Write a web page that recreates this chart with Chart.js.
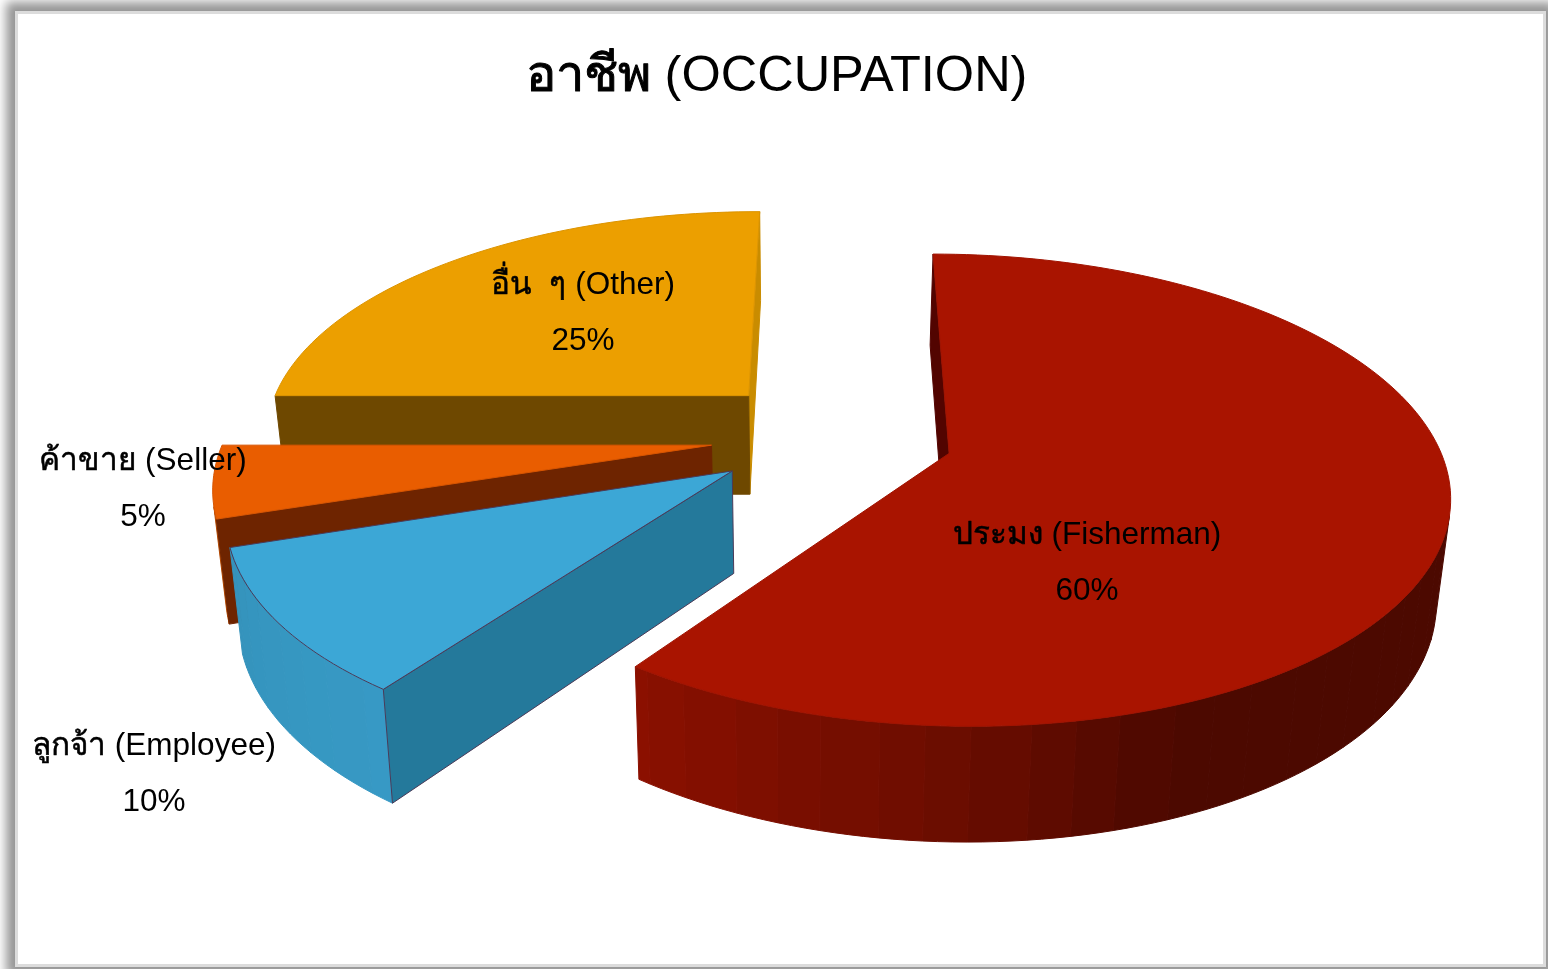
<!DOCTYPE html>
<html>
<head>
<meta charset="utf-8">
<script src="https://cdn.jsdelivr.net/npm/chart.js@4"></script>
<style>
html,body{margin:0;padding:0;background:#fff;overflow:hidden;width:1548px;height:969px}
#frame{position:absolute;left:15px;top:11px;width:1525px;height:950px;border:3px solid #dcdcdc;background:#fff;box-shadow:0 0 10px 9px #969696}
#c{position:absolute;left:0;top:0}
</style>
</head>
<body>
<div id="frame"></div>
<canvas id="c" width="1548" height="969"></canvas>
<script>
const titleText = 'อาชีพ (OCCUPATION)';
const categories = ['ประมง (Fisherman)', 'ลูกจ้า (Employee)', 'ค้าขาย (Seller)', 'อื่น  ๆ (Other)'];
const shares = [60, 10, 5, 25];
const explode = [120, 127, 125, 122];
const topColors = ['#A91400', '#3CA7D6', '#E95D00', '#EC9F00'];
const startFaces = ['#520400', '#24799B', '#6E2400', '#6E4800'];
const endFaces = ['#520400', '#24799B', '#6E2400', '#C98C00'];
const edgeColors = ['#A01300', '#4A3A58', '#D85500', '#DC9400'];
const labelSpots = [[1087, 535], [154, 746], [143, 461], [583, 285]];
const wallStops = [
  [[0, .45], [160, .45], [180, .62], [216, .82]],
  [[216, .92], [252, .88]],
  [[252, .76], [270, .76]],
  [[270, .6], [360, .6]]
];

const view = {dx: 58.5, oy: 436, vx: 830, tilt: .468, tiltGrow: .00033, persp: .156, grow: .00065, refY: 453, sinkX: 800};
const fontStack = '"Liberation Sans", Arial, sans-serif';

function shadeOf(hex, f) {
  const n = parseInt(hex.slice(1), 16);
  return 'rgb(' + [(n >> 16) & 255, (n >> 8) & 255, n & 255].map(c => Math.round(c * f)).join(',') + ')';
}
function stopAt(stops, deg) {
  if (deg <= stops[0][0]) return stops[0][1];
  for (let i = 1; i < stops.length; i++) {
    if (deg <= stops[i][0]) {
      const a = stops[i - 1], b = stops[i];
      return a[1] + (b[1] - a[1]) * (deg - a[0]) / (b[0] - a[0]);
    }
  }
  return stops[stops.length - 1][1];
}
function sink(p) {
  return {x: p.x + (view.sinkX - p.x) * .022, y: p.y + 78 + .052 * p.y};
}
function area(q) {
  let s = 0;
  q.forEach((p, i) => { const n = q[(i + 1) % q.length]; s += p.x * n.y - n.x * p.y; });
  return s;
}
function fillPoly(ctx, pts, fill, stroke, lw) {
  ctx.beginPath();
  pts.forEach((p, i) => i ? ctx.lineTo(p.x, p.y) : ctx.moveTo(p.x, p.y));
  ctx.closePath();
  ctx.fillStyle = fill;
  ctx.fill();
  ctx.strokeStyle = stroke || fill;
  ctx.lineWidth = lw || 1;
  ctx.lineJoin = 'round';
  ctx.stroke();
}
// The Thai run of each text is heavier in the original: thicken only that run.
function thickenThai(ctx, text, cx, y, weight) {
  const cut = text.indexOf('(');
  const total = ctx.measureText(text).width;
  const run = ctx.measureText(text.slice(0, cut)).width;
  ctx.save();
  ctx.beginPath();
  ctx.rect(cx - total / 2 - 2, y - 60, run + 2, 120);
  ctx.clip();
  ctx.lineWidth = weight;
  ctx.strokeStyle = '#000';
  ctx.lineJoin = 'round';
  ctx.strokeText(text, cx, y);
  ctx.restore();
}

const pie3d = {
  id: 'pie3d',
  beforeDatasetDraw() { return false; },
  afterDatasetsDraw(chart) {
    const ctx = chart.ctx;
    const arcs = chart.getDatasetMeta(0).data;
    ctx.save();
    for (let i = arcs.length - 1; i >= 0; i--) {
      const arc = arcs[i];
      const {startAngle, endAngle, outerRadius} = arc.getProps(['startAngle', 'endAngle', 'outerRadius'], true);
      const mid = (startAngle + endAngle) / 2;
      const off = arc.options.offset;
      const ox = arc.x + view.dx;
      const ax = ox + off * Math.cos(mid);
      const ay = view.oy + off * Math.sin(mid) * view.tilt;
      const R = outerRadius * (1 + (ay - view.refY) * view.grow);
      const tilt = view.tilt + (ay - view.refY) * view.tiltGrow;
      const project = a => {
        const u = Math.cos(a), v = Math.sin(a);
        const s = 1 / (1 - view.persp * v);
        return {x: ax + (ax - view.vx) * (s - 1) + R * u * s, y: ay + R * tilt * v * s};
      };
      const apex = {x: ax, y: ay};
      const deg = a => (a + Math.PI / 2) * 180 / Math.PI;
      const step = Math.PI / 120;
      const rim = [];
      const n = Math.max(2, Math.ceil((endAngle - startAngle) / step));
      for (let k = 0; k <= n; k++) rim.push(startAngle + (endAngle - startAngle) * k / n);
      const rimPts = rim.map(project);

      const face = (A, B, color) => {
        const q = [A, B, sink(B), sink(A)];
        if (area(q) < 0) fillPoly(ctx, q, color, color, 1);
      };
      const edge = edgeColors[i];
      const bandDeg = 5;
      let band = null, bandPts = [];
      const flush = () => {
        if (bandPts.length < 2) return;
        const a = bandPts[0], b = bandPts[bandPts.length - 1];
        const poly = bandPts.concat(bandPts.slice().reverse().map(sink));
        const test = [a, b, sink(b), sink(a)];
        if (area(test) < 0) {
          const f = stopAt(wallStops[i], band * bandDeg + bandDeg / 2);
          fillPoly(ctx, poly, shadeOf(topColors[i], f), null, 1);
        }
      };
      rim.forEach((a, k) => {
        const b = Math.floor((deg(a) - 1e-6) / bandDeg);
        if (band === null) band = b;
        if (b !== band) {
          flush();
          band = b;
          bandPts = [bandPts[bandPts.length - 1]];
        }
        bandPts.push(rimPts[k]);
      });
      flush();
      face(rimPts[rimPts.length - 1], apex, endFaces[i]);
      const f0 = [apex, rimPts[0], sink(rimPts[0]), sink(apex)];
      if (area(f0) < 0) fillPoly(ctx, f0, startFaces[i], i === 1 ? edge : startFaces[i], 1);
      fillPoly(ctx, [apex].concat(rimPts), topColors[i], edge, 1);
    }
    ctx.fillStyle = '#000';
    ctx.font = '31.5px ' + fontStack;
    ctx.textAlign = 'center';
    ctx.textBaseline = 'middle';
    const total = shares.reduce((a, b) => a + b, 0);
    labelSpots.forEach((spot, i) => {
      ctx.fillText(categories[i], spot[0], spot[1]);
      thickenThai(ctx, categories[i], spot[0], spot[1], .55);
      ctx.fillText(Math.round(shares[i] / total * 100) + '%', spot[0], spot[1] + 56);
    });
    const tb = chart.titleBlock;
    ctx.font = tb.options.font.size + 'px ' + fontStack;
    thickenThai(ctx, titleText, (tb.left + tb.right) / 2, tb.top + tb.options.padding.top + tb.options.font.size * .6, 1);
    ctx.restore();
  }
};

new Chart(document.getElementById('c'), {
  type: 'pie',
  data: {
    labels: categories,
    datasets: [{data: shares, backgroundColor: topColors, offset: explode, borderWidth: 0}]
  },
  options: {
    responsive: false,
    animation: false,
    radius: 492,
    events: [],
    layout: {padding: {left: 5}},
    plugins: {
      legend: {display: false},
      tooltip: {enabled: false},
      title: {
        display: true,
        text: titleText,
        color: '#000',
        font: {family: fontStack, size: 50.5, weight: 'normal', lineHeight: 1.2},
        padding: {top: 47, bottom: 0}
      }
    }
  },
  plugins: [pie3d]
});
</script>
</body>
</html>
